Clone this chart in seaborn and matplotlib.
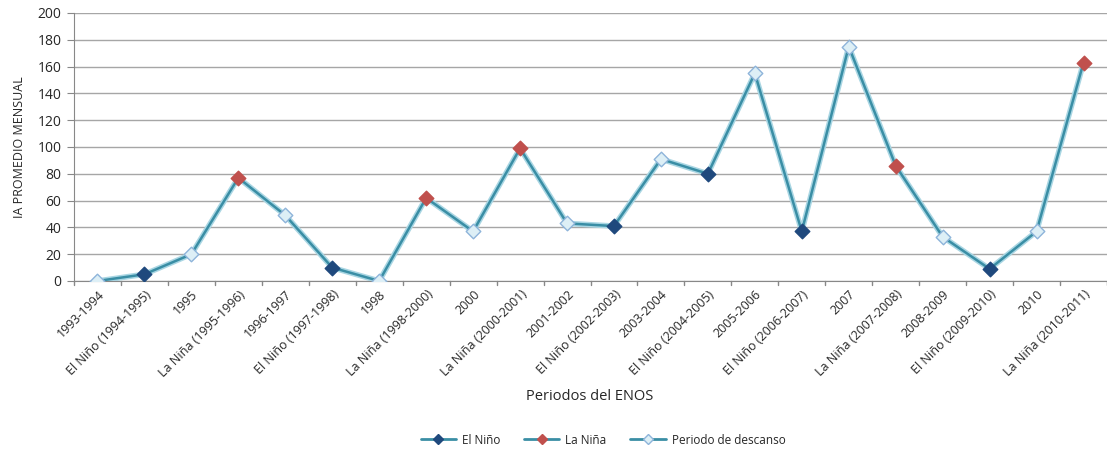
import seaborn as sns
import matplotlib.pyplot as plt
from matplotlib.lines import Line2D
import pandas as pd

## Datos
periodos = ["1993-1994", "El Niño (1994-1995)", "1995", "La Niña (1995-1996)",
            "1996-1997", "El Niño (1997-1998)", "1998", "La Niña (1998-2000)",
            "2000", "La Niña (2000-2001)", "2001-2002", "El Niño (2002-2003)",
            "2003-2004", "El Niño (2004-2005)", "2005-2006", "El Niño (2006-2007)",
            "2007", "La Niña (2007-2008)", "2008-2009", "El Niño (2009-2010)",
            "2010", "La Niña (2010-2011)"]
ia_promedio = [0, 5, 20, 77, 49, 10, 0, 62, 37, 99, 43, 41,
               91, 80, 155, 37, 175, 86, 33, 9, 37, 163]
fases = []
for p in periodos:
    if p.startswith("El Niño"):
        fases.append("El Niño")
    elif p.startswith("La Niña"):
        fases.append("La Niña")
    else:
        fases.append("Periodo de descanso")
y_ticks = list(range(0, 201, 20))

df = pd.DataFrame({"periodo": periodos, "ia": ia_promedio, "fase": fases})
df["pos"] = range(len(df))

sns.set_style("white")
plt.rcParams['font.family'] = ['Open Sans', 'DejaVu Sans']

fig = plt.figure(figsize=(11.07, 4.51), dpi=100)
ax = fig.add_axes([74 / 1107, 1 - 281 / 451, 1 - 74 / 1107, (281 - 13) / 451])

# linea (halo claro + linea teal)
sns.lineplot(data=df, x="pos", y="ia", ax=ax, color="#A9D6E3", lw=4.0, zorder=2)
sns.lineplot(data=df, x="pos", y="ia", ax=ax, color="#3A8EA5", lw=1.8, zorder=3)

estilos = {
    "El Niño": ("#1F497D", "#1F497D"),
    "La Niña": ("#C0504D", "#C0504D"),
    "Periodo de descanso": ("#DDEFF6", "#8EB4DA"),
}
for fase, (fc, ec) in estilos.items():
    sub = df[df["fase"] == fase]
    sns.scatterplot(data=sub, x="pos", y="ia", ax=ax, marker="D", s=55,
                    color=fc, edgecolor=ec, linewidth=1.0, zorder=4, legend=False)

ax.set_ylim(0, 200)
ax.set_xlim(-0.5, len(periodos) - 0.5)
ax.set_yticks(y_ticks)
ax.yaxis.grid(True, color="#A6A6A6", lw=1.0)
ax.set_axisbelow(True)
ax.tick_params(axis="y", labelsize=10, labelcolor="#262626", length=5,
               color="#888888", left=True, pad=4)

ax.set_xticks(df["pos"])
ax.set_xticklabels(periodos, rotation=45, ha="right", rotation_mode="anchor",
                   fontsize=9, color="#262626")
ax.tick_params(axis="x", length=0, pad=5)
# ticks entre categorias
for b in range(len(periodos) + 1):
    ax.plot([b - 0.5, b - 0.5], [0, -3], color="#888888", lw=1,
            clip_on=False, zorder=1)

for s in ["top", "right"]:
    ax.spines[s].set_visible(False)
ax.spines["left"].set_color("#888888")
ax.spines["bottom"].set_color("#888888")

ax.set_xlabel("")
ax.set_ylabel("IA PROMEDIO MENSUAL", fontsize=9, labelpad=8, color="#262626")
fig.text(590 / 1107, 1 - 397 / 451, "Periodos del ENOS", ha="center",
         va="center", fontsize=10.5, color="#262626")

handles = []
for fase, (fc, ec) in estilos.items():
    handles.append(Line2D([0], [0], color="#3A8EA5", lw=2.0, marker="D",
                          markersize=5, markerfacecolor=fc, markeredgecolor=ec))
fig.legend(handles, list(estilos.keys()), loc="center", ncol=3,
           bbox_to_anchor=(603 / 1107, 1 - 440 / 451), frameon=False,
           fontsize=8.5, handlelength=3, columnspacing=2.0, handletextpad=0.5)

plt.savefig("out.png", dpi=100)
